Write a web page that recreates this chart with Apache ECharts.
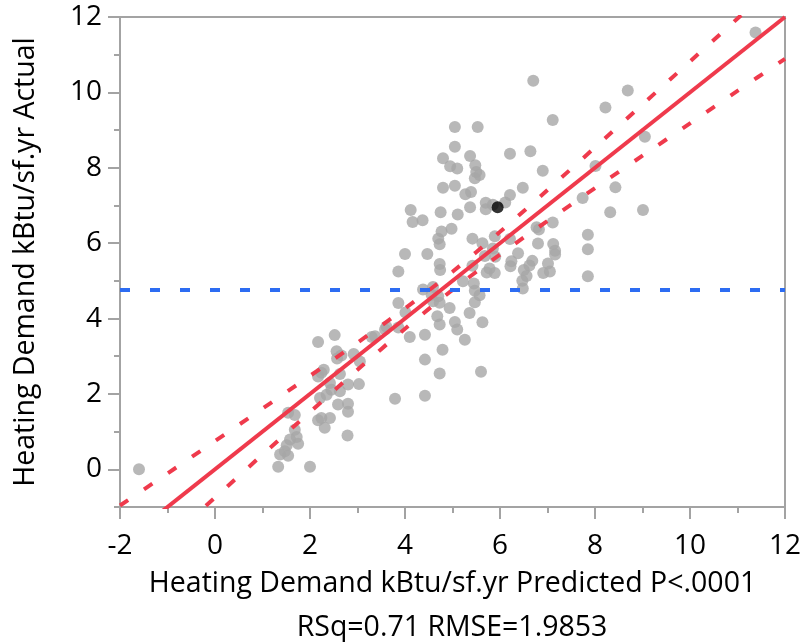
<!DOCTYPE html>
<html>
<head>
<meta charset="utf-8">
<script src="https://cdn.jsdelivr.net/npm/echarts@6/dist/echarts.min.js"></script>
<style>
  html, body { margin: 0; padding: 0; background: #ffffff; }
  #chart { width: 805px; height: 642px; }
</style>
</head>
<body>
<div id="chart"></div>
<script>
// ---- Data ----
const predicted = [
  11.38, 6.70, 8.69, 8.22, 7.11, 5.05, 5.53, 9.05, 5.05, 6.21,
  6.64, 4.80, 5.37, 4.95, 5.10, 5.48, 5.50, 5.57, 5.47, 6.90,
  8.01, 4.80, 5.05, 5.27, 5.39, 6.48, 6.21, 8.43, 7.74, 5.70,
  5.70, 5.85, 6.11, 5.37, 4.12, 4.16, 4.37, 4.75, 5.11, 8.32,
  9.01, 7.11, 6.77, 6.82, 4.77, 4.98, 4.70, 4.73, 5.42, 5.89,
  6.21, 7.85, 7.85, 7.85, 6.80, 7.12, 7.16, 7.16, 5.63, 5.85,
  5.68, 5.90, 6.38, 6.24, 6.22, 6.68, 6.62, 6.50, 6.56, 6.47,
  6.48, 7.01, 7.05, 6.91, 5.78, 5.89, 5.72, 4.00, 4.47, 3.86,
  4.73, 4.74, 5.42, 5.22, 5.45, 5.47, 5.57, 5.47, 4.38, 4.59,
  4.56, 4.70, 4.73, 4.59, 4.94, 3.86, 4.01, 4.68, 4.73, 5.05,
  5.10, 5.36, 5.63, 5.26, 3.61, 3.58, 3.30, 3.37, 3.86, 4.10,
  4.42, 4.79, 4.42, 4.73, 5.60, 4.42, 3.79,
  2.17, 2.52, 2.56, 2.66, 2.57, 2.92, 3.05, 3.03, 2.24, 2.17,
  2.29, 2.63, 2.42, 2.35, 2.45, 2.21, 2.63, 2.80, 2.59, 2.80,
  2.80, 2.24, 2.42, 2.31, 2.17, 2.79, 1.54, 1.68, 1.68, 1.72,
  1.58, 1.75, 1.51, 1.47, 1.37, 1.54, 1.33, 2.00, -1.60
];
const actual = [
  11.59, 10.31, 10.05, 9.60, 9.27, 9.08, 9.08, 8.82, 8.56, 8.37,
  8.44, 8.25, 8.31, 8.04, 7.98, 8.07, 7.89, 7.81, 7.72, 7.92,
  8.05, 7.47, 7.52, 7.30, 7.36, 7.47, 7.28, 7.48, 7.20, 7.07,
  6.90, 7.02, 7.08, 6.95, 6.88, 6.56, 6.61, 6.82, 6.76, 6.82,
  6.88, 6.55, 6.42, 6.36, 6.31, 6.38, 6.12, 5.97, 6.12, 6.18,
  6.11, 6.22, 5.84, 5.12, 5.99, 5.98, 5.80, 5.70, 6.00, 5.86,
  5.66, 5.64, 5.73, 5.52, 5.39, 5.53, 5.41, 5.29, 5.13, 5.00,
  4.80, 5.46, 5.25, 5.21, 5.33, 5.21, 5.22, 5.71, 5.71, 5.25,
  5.45, 5.29, 5.40, 4.99, 4.93, 4.74, 4.62, 4.43, 4.77, 4.84,
  4.63, 4.59, 4.42, 4.46, 4.28, 4.41, 4.16, 4.06, 3.84, 3.91,
  3.71, 4.15, 3.90, 3.44, 3.78, 3.71, 3.51, 3.53, 3.76, 3.51,
  3.57, 3.17, 2.91, 2.54, 2.59, 1.95, 1.87,
  3.38, 3.56, 3.13, 3.02, 2.94, 3.06, 2.86, 2.26, 2.56, 2.46,
  2.64, 2.53, 2.29, 1.98, 2.11, 1.89, 2.07, 2.25, 1.72, 1.74,
  1.53, 1.36, 1.36, 1.10, 1.30, 0.90, 1.50, 1.44, 1.05, 0.86,
  0.79, 0.68, 0.64, 0.48, 0.39, 0.36, 0.07, 0.07, 0.00
];
const highlightPred = [5.95];
const highlightAct = [6.95];

const fitX = [-2, 12];
const fitY = [-2, 12];
const meanActual = 4.76;

const curveX = [-2, -1, 0, 1, 2, 3, 4, 5, 6, 7, 8, 9, 10, 11, 12];
const upperY = [-0.96, -0.11, 0.75, 1.61, 2.48, 3.36, 4.27, 5.24, 6.30, 7.41, 8.54, 9.68, 10.82, 11.96, 13.11];
const lowerY = [-3.04, -1.89, -0.75, 0.39, 1.52, 2.64, 3.73, 4.76, 5.70, 6.59, 7.46, 8.32, 9.18, 10.04, 10.89];

const xTicks = [-2, 0, 2, 4, 6, 8, 10, 12];
const yTicks = [0, 2, 4, 6, 8, 10, 12];
const yMinorTicks = [-1, 1, 3, 5, 7, 9, 11];

const xTitle = 'Heating Demand kBtu/sf.yr Predicted P<.0001';
const xSubTitle = 'RSq=0.71 RMSE=1.9853';
const yTitle = 'Heating Demand kBtu/sf.yr Actual';

// ---- Styles ----
const FONT = 'Open Sans';
const AXIS_GRAY = '#a3a3a3';
const RED = '#ef3a4c';
const BLUE = '#2d6cf2';

const chart = echarts.init(document.getElementById('chart'), null, { renderer: 'canvas' });

const pairs = (xs, ys) => xs.map((x, i) => [x, ys[i]]);

chart.setOption({
  animation: false,
  backgroundColor: '#ffffff',
  grid: {
    left: 120, right: 20, top: 17, bottom: 135,
    outerBoundsMode: 'none', containLabel: false,
    show: true, borderColor: AXIS_GRAY, borderWidth: 2, backgroundColor: 'transparent'
  },
  graphic: [{
    type: 'text', x: 452, y: 628,
    style: {
      text: xSubTitle, fontFamily: FONT, fontSize: 28.5, fill: '#000',
      textAlign: 'center', textVerticalAlign: 'middle'
    }
  }],
  xAxis: {
    type: 'value', min: -2, max: 12, interval: 2,
    name: xTitle,
    nameLocation: 'middle', nameGap: 62,
    nameTextStyle: { fontFamily: FONT, fontSize: 28.5, color: '#000' },
    axisLine: { show: true, onZero: false, lineStyle: { color: AXIS_GRAY, width: 2 } },
    axisTick: { show: true, length: 12, lineStyle: { color: AXIS_GRAY, width: 2 } },
    minorTick: { show: true, splitNumber: 2, length: 6, lineStyle: { color: AXIS_GRAY, width: 2 } },
    splitLine: { show: false },
    axisLabel: {
      fontFamily: FONT, fontSize: 28, color: '#000', margin: 25,
      customValues: xTicks
    }
  },
  yAxis: [{
    type: 'value', min: -1, max: 12,
    name: yTitle,
    nameLocation: 'middle', nameGap: 80,
    nameTextStyle: { fontFamily: FONT, fontSize: 28.5, color: '#000' },
    axisLine: { show: true, onZero: false, lineStyle: { color: AXIS_GRAY, width: 2 } },
    axisTick: { show: true, length: 12, customValues: yTicks, lineStyle: { color: AXIS_GRAY, width: 2 } },
    splitLine: { show: false },
    axisLabel: {
      fontFamily: FONT, fontSize: 28, color: '#000', margin: 18,
      customValues: yTicks
    }
  }, {
    type: 'value', min: -1, max: 12, position: 'left',
    axisLine: { show: false, onZero: false },
    axisTick: { show: true, length: 6, customValues: yMinorTicks, lineStyle: { color: AXIS_GRAY, width: 2 } },
    splitLine: { show: false },
    axisLabel: { show: false }
  }],
  series: [
    {
      type: 'scatter', symbol: 'circle', symbolSize: 12,
      itemStyle: { color: '#a6a6a6' },
      data: pairs(predicted, actual), silent: true
    },
    {
      type: 'scatter', symbol: 'circle', symbolSize: 12,
      itemStyle: { color: '#000000' },
      data: pairs(highlightPred, highlightAct), silent: true
    },
    {
      type: 'line', data: fitX.map((x, i) => [x, fitY[i]]),
      showSymbol: false, symbol: 'none', clip: true, silent: true,
      lineStyle: { color: RED, width: 4, type: 'solid' }
    },
    {
      type: 'line', data: pairs(curveX, upperY), smooth: 0.3,
      showSymbol: false, symbol: 'none', clip: true, silent: true,
      lineStyle: { color: RED, width: 4, type: [10, 19] }
    },
    {
      type: 'line', data: pairs(curveX, lowerY), smooth: 0.3,
      showSymbol: false, symbol: 'none', clip: true, silent: true,
      lineStyle: { color: RED, width: 4, type: [10, 19] }
    },
    {
      type: 'line', data: [[-2, meanActual], [12, meanActual]],
      showSymbol: false, symbol: 'none', clip: true, silent: true,
      lineStyle: { color: BLUE, width: 4, type: [10, 20] }
    }
  ]
});
</script>
</body>
</html>
